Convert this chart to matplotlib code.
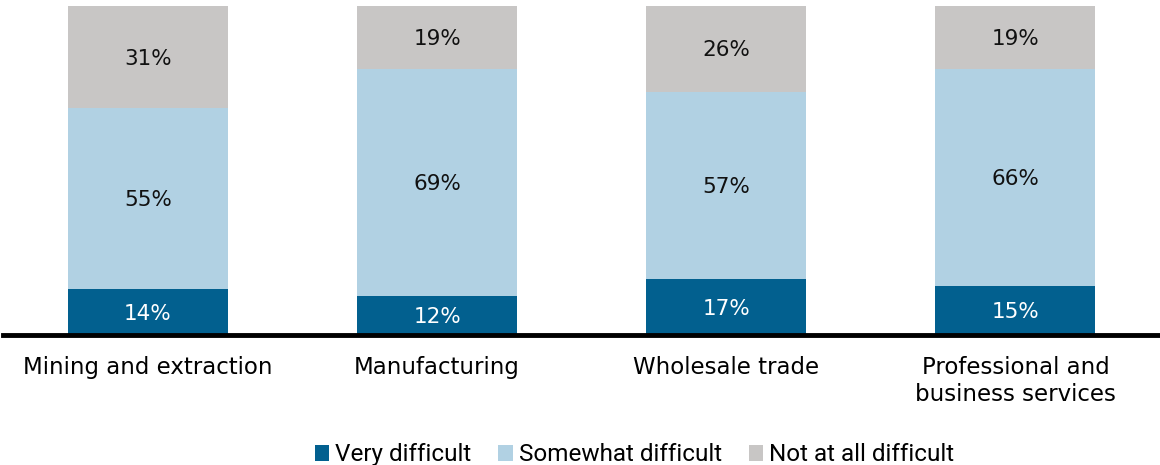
import matplotlib.pyplot as plt
import numpy as np

plt.rcParams['font.family'] = ['DejaVu Sans']

# data
categories = ['Mining and extraction', 'Manufacturing', 'Wholesale trade',
              'Professional and\nbusiness services']
very_difficult = [14, 12, 17, 15]
somewhat_difficult = [55, 69, 57, 66]
not_difficult = [31, 19, 26, 19]
series_names = ['Very difficult', 'Somewhat difficult', 'Not at all difficult']

colors = ['#02608f', '#b1d1e3', '#c8c6c5']
text_colors = ['white', '#111111', '#111111']

fig = plt.figure(figsize=(11.6, 4.65), dpi=100)
ax = fig.add_axes([0.003, 0.2796, 0.997, 0.7075])

x = np.arange(len(categories))
bottom = np.zeros(len(categories))
series = [very_difficult, somewhat_difficult, not_difficult]
handles = []
for vals, c, tc, name in zip(series, colors, text_colors, series_names):
    bars = ax.bar(x, vals, width=0.553, bottom=bottom, color=c, label=name)
    handles.append(bars)
    for xi, v, b in zip(x, vals, bottom):
        ax.text(xi, b + v / 2 - 0.5, f'{v}%', ha='center', va='center',
                color=tc, fontsize=15.5)
    bottom += np.array(vals)

ax.set_xlim(-0.5, 3.5)
ax.set_ylim(0, 100)
ax.set_yticks([])
ax.set_xticks(x)
ax.set_xticklabels(categories, fontsize=16.5, linespacing=1.25)
ax.tick_params(axis='x', length=0, pad=15)
for s in ['top', 'right', 'left']:
    ax.spines[s].set_visible(False)
ax.spines['bottom'].set_linewidth(3.5)
ax.spines['bottom'].set_color('black')

fig.legend(handles=handles, loc='lower center', bbox_to_anchor=(0.547, -0.05),
           ncol=3, frameon=False, prop={'family': 'Roboto', 'size': 17.5},
           handlelength=0.6, handleheight=0.6, handletextpad=0.25,
           columnspacing=1.1)

fig.savefig('out.png', dpi=100)
